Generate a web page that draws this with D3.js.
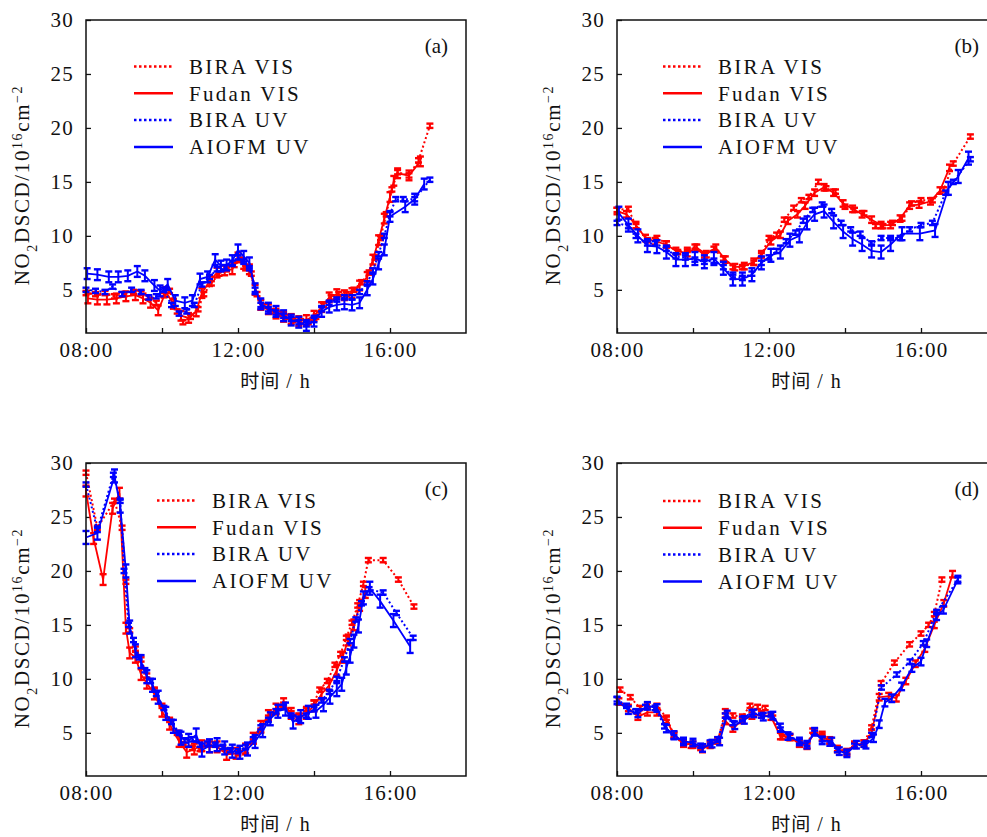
<!DOCTYPE html>
<html>
<head>
<meta charset="utf-8">
<script src="https://cdn.jsdelivr.net/npm/d3@7"></script>
<style>
  body { margin: 0; background: #fff; }
  svg { display: block; }
  text { font-family: "Liberation Serif", serif; fill: #111; }
</style>
</head>
<body>
<svg width="987" height="837"></svg>
<script>
// series names, in drawing order
const seriesNames = ["BIRA VIS", "Fudan VIS", "BIRA UV", "AIOFM UV"]
const seriesColors = ["#ff0000", "#ff0000", "#0000ff", "#0000ff"]
const seriesDotted = [true, false, true, false]
const panelLabels = ["(a)", "(b)", "(c)", "(d)"]
const yTicks = [5, 10, 15, 20, 25, 30]
const xTicks = [8, 10, 12, 14, 16]
const xTickLabels = {8: "08:00", 12: "12:00", 16: "16:00"}

// panel (a): [hour, NO2 DSCD]
const aBiraVis = [[8.0,4.7],[8.25,4.6],[8.5,4.7],[8.75,4.4],[9.0,4.6],[9.25,4.8],[9.45,4.7],[9.65,4.3],[9.85,3.8],[10.05,4.5],[10.2,4.9],[10.4,3.0],[10.55,2.0],[10.75,2.5],[10.95,3.2],[11.1,4.6],[11.3,5.6],[11.5,6.5],[11.7,6.9],[11.9,7.3],[12.05,7.8],[12.2,7.0],[12.35,6.5],[12.5,4.6],[12.65,3.5],[12.85,3.0],[13.05,2.8],[13.25,2.5],[13.45,2.2],[13.65,2.1],[13.85,2.0],[14.05,2.5],[14.25,3.6],[14.45,4.3],[14.65,4.6],[14.85,4.6],[15.05,5.0],[15.25,5.7],[15.45,6.6],[15.6,8.0],[15.75,9.8],[15.9,12.0],[16.05,14.3],[16.2,15.9],[16.5,15.6],[16.75,17.0],[17.05,20.2]]
const aFudanVis = [[8.05,4.2],[8.3,4.1],[8.55,4.1],[8.8,4.2],[9.05,4.4],[9.3,4.5],[9.5,4.2],[9.7,3.8],[9.9,3.1],[10.1,4.8],[10.3,3.7],[10.5,2.6],[10.7,2.4],[10.9,3.0],[11.05,4.7],[11.25,5.8],[11.45,6.6],[11.65,6.8],[11.85,6.9],[12.0,8.0],[12.15,7.4],[12.3,6.9],[12.45,5.0],[12.6,3.6],[12.8,3.2],[13.0,2.8],[13.2,2.5],[13.4,2.3],[13.6,2.1],[13.8,2.2],[14.0,2.6],[14.2,3.4],[14.4,4.3],[14.6,4.6],[14.8,4.5],[15.0,4.7],[15.2,5.4],[15.4,6.2],[15.55,7.8],[15.7,9.6],[15.85,11.6],[16.0,13.6],[16.1,15.1],[16.2,15.8],[16.5,15.6],[16.8,16.9]]
const aBiraUv = [[8.0,5.0],[8.25,4.9],[8.5,4.8],[8.7,5.3],[8.95,4.6],[9.2,5.0],[9.45,4.8],[9.65,4.3],[9.85,4.4],[10.05,5.0],[10.25,3.6],[10.45,2.8],[10.65,3.0],[10.85,3.6],[11.05,5.5],[11.25,6.2],[11.45,6.9],[11.65,7.1],[11.85,7.5],[12.0,8.0],[12.15,7.6],[12.3,7.0],[12.45,5.0],[12.6,3.6],[12.8,3.2],[13.0,2.9],[13.2,2.6],[13.4,2.3],[13.6,2.0],[13.8,1.8],[14.0,2.2],[14.2,3.2],[14.4,3.8],[14.6,4.1],[14.8,4.3],[15.0,4.3],[15.2,4.8],[15.4,5.6],[15.55,6.8],[15.7,8.3],[15.85,10.0],[16.0,12.0],[16.15,13.4],[16.35,13.4],[16.65,13.4],[17.05,15.2]]
const aAiofmUv = [[8.03,6.5],[8.3,6.4],[8.6,6.2],[8.85,6.2],[9.1,6.3],[9.35,6.7],[9.55,6.3],[9.8,5.4],[9.95,4.9],[10.15,5.5],[10.35,4.0],[10.6,3.8],[10.8,4.0],[11.0,6.0],[11.2,6.2],[11.4,7.8],[11.55,7.2],[11.7,7.3],[11.85,7.7],[12.0,8.7],[12.15,8.1],[12.3,7.5],[12.45,5.1],[12.6,3.7],[12.8,3.3],[13.0,3.0],[13.2,2.6],[13.4,2.2],[13.6,2.0],[13.8,1.7],[14.0,2.1],[14.2,3.0],[14.4,3.4],[14.6,3.6],[14.8,3.7],[15.0,3.6],[15.2,3.8],[15.4,5.0],[15.55,6.0],[15.7,7.4],[15.85,8.7],[16.0,11.8],[16.4,12.7],[16.65,13.4],[16.9,14.8]]
const aErr = [0.2, 0.45, 0.2, 0.5]

// panel (b)
const bBiraVis = [[8.0,12.4],[8.3,12.5],[8.5,10.9],[8.8,9.6],[9.05,9.8],[9.3,9.3],[9.6,8.5],[9.85,8.7],[10.05,9.0],[10.3,8.2],[10.55,8.8],[10.8,7.9],[11.05,7.1],[11.3,7.1],[11.6,7.5],[11.8,8.2],[12.0,9.8],[12.2,10.1],[12.4,11.5],[12.65,12.6],[12.85,13.3],[13.05,13.6],[13.3,15.0],[13.5,14.4],[13.75,14.1],[14.0,12.7],[14.25,12.4],[14.5,12.1],[14.8,10.9],[15.0,10.9],[15.25,11.2],[15.5,11.6],[15.75,13.0],[16.0,13.3],[16.3,13.3],[16.6,14.3],[16.85,16.7],[17.3,19.2]]
const bFudanVis = [[8.0,12.3],[8.25,12.0],[8.5,11.0],[8.75,9.8],[9.0,9.5],[9.3,9.2],[9.55,8.6],[9.85,8.4],[10.1,8.9],[10.35,8.3],[10.6,8.9],[10.85,7.8],[11.1,7.1],[11.35,7.2],[11.6,7.6],[11.8,8.3],[12.05,9.5],[12.3,10.1],[12.5,11.4],[12.75,12.0],[12.95,12.8],[13.2,14.0],[13.45,14.5],[13.7,14.0],[13.95,13.0],[14.2,12.5],[14.45,12.0],[14.7,11.5],[14.95,11.0],[15.2,11.0],[15.45,11.6],[15.7,12.8],[15.95,12.9],[16.25,13.2],[16.5,14.2],[16.75,16.3]]
const bBiraUv = [[8.0,11.2],[8.3,10.9],[8.5,10.0],[8.8,9.3],[9.0,9.3],[9.3,8.8],[9.55,8.1],[9.8,8.0],[10.05,7.8],[10.3,7.6],[10.55,7.7],[10.8,7.1],[11.05,6.2],[11.3,6.1],[11.55,6.5],[11.8,7.5],[12.0,8.0],[12.2,8.6],[12.45,9.5],[12.7,10.3],[12.9,11.4],[13.15,12.4],[13.4,12.9],[13.65,12.3],[13.9,11.2],[14.15,10.6],[14.4,10.2],[14.7,9.3],[14.95,9.8],[15.2,9.8],[15.45,9.8],[15.7,10.6],[16.0,11.0],[16.3,11.2],[16.65,14.0],[16.85,15.0],[17.3,17.1]]
const bAiofmUv = [[8.05,12.1],[8.3,11.0],[8.55,10.0],[8.8,9.1],[9.05,9.0],[9.3,8.5],[9.55,7.8],[9.8,7.8],[10.05,7.9],[10.3,7.6],[10.55,7.9],[10.8,7.0],[11.05,6.0],[11.3,6.0],[11.55,6.4],[11.8,7.5],[12.05,8.2],[12.3,8.5],[12.55,9.6],[12.8,10.0],[13.0,11.2],[13.2,12.0],[13.45,12.3],[13.7,11.3],[13.95,10.4],[14.2,9.7],[14.45,9.2],[14.7,8.6],[14.95,8.5],[15.2,9.2],[15.5,10.2],[15.97,10.2],[16.37,10.5],[16.72,14.4],[16.98,15.5],[17.25,17.2]]
const bErr = [0.2, 0.3, 0.2, 0.6]

// panel (c)
const cBiraVis = [[8.0,29.1],[8.3,24.0],[8.75,26.5],[8.95,24.0],[9.05,19.0],[9.15,14.5],[9.3,12.8],[9.45,11.8],[9.6,10.3],[9.8,9.0],[10.0,7.5],[10.2,6.2],[10.4,5.0],[10.6,3.9],[10.8,3.6],[11.0,3.5],[11.2,3.9],[11.4,3.9],[11.6,3.6],[11.8,3.3],[12.0,3.1],[12.2,3.3],[12.4,4.2],[12.6,5.2],[12.8,6.4],[13.0,7.0],[13.2,7.6],[13.4,6.8],[13.6,6.5],[13.8,7.2],[14.0,7.8],[14.15,9.0],[14.35,9.8],[14.55,11.3],[14.7,12.3],[14.85,13.8],[15.0,15.2],[15.15,16.8],[15.3,18.8],[15.43,21.0],[15.82,21.0],[16.22,19.2],[16.63,16.7]]
const cFudanVis = [[8.0,27.4],[8.2,23.0],[8.45,19.2],[8.7,25.8],[8.88,27.2],[9.05,14.7],[9.15,12.4],[9.3,12.0],[9.45,10.4],[9.6,9.6],[9.8,8.6],[10.0,7.0],[10.2,5.8],[10.45,4.2],[10.65,3.2],[10.85,3.5],[11.05,3.8],[11.25,3.7],[11.45,3.7],[11.7,3.0],[11.95,3.1],[12.2,3.5],[12.4,4.5],[12.6,5.6],[12.8,6.6],[13.0,7.2],[13.2,7.7],[13.4,6.8],[13.6,6.3],[13.8,6.8],[14.0,7.5],[14.2,8.6],[14.4,9.4],[14.6,10.8],[14.75,12.0],[14.9,13.6],[15.05,15.0],[15.2,16.8],[15.35,18.0]]
const cBiraUv = [[8.0,28.0],[8.3,23.8],[8.72,28.9],[8.9,26.5],[9.0,20.0],[9.12,15.0],[9.25,13.6],[9.4,12.0],[9.55,10.8],[9.7,9.8],[9.85,8.6],[10.05,7.3],[10.25,6.0],[10.45,5.0],[10.6,4.3],[10.8,4.4],[11.0,3.9],[11.2,4.0],[11.4,3.9],[11.6,3.7],[11.8,3.4],[12.0,3.3],[12.2,3.7],[12.4,4.4],[12.6,5.5],[12.8,6.2],[13.0,7.0],[13.2,7.4],[13.4,6.6],[13.6,6.3],[13.8,6.6],[14.0,7.2],[14.2,8.0],[14.4,8.8],[14.6,10.0],[14.8,11.8],[14.95,13.5],[15.1,15.5],[15.25,17.0],[15.45,18.3],[15.82,18.0],[16.17,16.1],[16.61,13.8]]
const cAiofmUv = [[8.0,23.1],[8.3,23.5],[8.75,28.8],[8.9,26.0],[9.05,20.0],[9.15,14.8],[9.3,12.6],[9.45,11.6],[9.6,10.2],[9.75,9.4],[9.9,8.3],[10.1,6.8],[10.3,5.6],[10.5,4.5],[10.7,4.3],[10.9,4.8],[11.05,3.4],[11.25,3.8],[11.45,3.9],[11.65,3.6],[11.85,3.3],[12.05,3.2],[12.25,3.5],[12.45,4.2],[12.65,5.2],[12.85,6.3],[13.05,7.0],[13.25,7.2],[13.45,6.0],[13.65,6.5],[13.85,6.9],[14.05,7.0],[14.25,7.6],[14.42,8.3],[14.6,9.0],[14.73,9.5],[14.85,11.0],[14.95,12.1],[15.05,13.5],[15.17,14.9],[15.3,17.5],[15.47,18.4],[15.74,17.2],[16.09,15.4],[16.53,13.0]]
const cErr = [0.2, 0.5, 0.2, 0.6]

// panel (d)
const dBiraVis = [[8.08,9.0],[8.35,8.3],[8.6,7.3],[8.8,7.6],[9.05,7.5],[9.3,6.4],[9.5,4.8],[9.75,3.9],[9.95,3.8],[10.2,3.6],[10.45,3.8],[10.65,4.2],[10.85,7.0],[11.05,6.6],[11.3,6.5],[11.5,7.5],[11.7,7.4],[11.9,7.3],[12.1,6.4],[12.35,4.6],[12.55,4.6],[12.8,3.9],[13.0,3.8],[13.15,5.2],[13.4,4.9],[13.6,4.2],[13.8,3.5],[14.05,3.3],[14.25,3.9],[14.5,4.1],[14.7,5.5],[14.95,9.6],[15.3,11.5],[15.7,13.2],[16.0,14.2],[16.2,15.0],[16.35,16.0],[16.55,19.2]]
const dFudanVis = [[8.05,7.9],[8.3,7.3],[8.55,6.5],[8.8,6.9],[9.05,6.9],[9.3,6.2],[9.5,4.8],[9.75,4.0],[10.0,3.9],[10.25,3.5],[10.45,3.9],[10.65,4.3],[10.85,6.1],[11.05,5.4],[11.3,6.2],[11.55,6.6],[11.8,6.7],[12.05,6.5],[12.3,4.7],[12.55,4.6],[12.8,4.0],[13.0,3.8],[13.2,5.1],[13.4,4.6],[13.6,4.3],[13.8,3.5],[14.05,3.2],[14.25,3.9],[14.5,4.0],[14.7,5.0],[14.9,8.3],[15.15,8.4],[15.35,8.2],[15.6,9.8],[15.85,11.4],[16.1,12.8],[16.35,15.0],[16.6,17.0],[16.83,19.7]]
const dBiraUv = [[8.0,8.1],[8.25,7.5],[8.5,7.0],[8.75,7.4],[9.0,7.3],[9.25,5.6],[9.5,4.6],[9.75,4.2],[10.0,4.0],[10.2,3.8],[10.45,4.1],[10.65,4.4],[10.85,6.6],[11.05,5.9],[11.3,6.3],[11.55,6.9],[11.8,6.6],[12.05,6.7],[12.3,5.3],[12.55,4.7],[12.8,4.2],[13.0,4.0],[13.2,5.0],[13.4,4.4],[13.6,4.0],[13.8,3.4],[14.05,3.2],[14.25,3.8],[14.5,3.9],[14.7,4.8],[14.96,9.2],[15.36,10.4],[15.71,11.6],[16.06,13.3],[16.41,16.2],[16.97,19.2]]
const dAiofmUv = [[8.0,8.0],[8.3,7.1],[8.55,6.8],[8.8,7.5],[9.05,7.3],[9.3,5.4],[9.5,4.8],[9.75,4.2],[10.0,4.1],[10.25,3.6],[10.5,4.0],[10.7,4.2],[10.9,6.7],[11.1,5.7],[11.35,6.2],[11.6,6.8],[11.85,6.5],[12.1,6.6],[12.3,5.5],[12.5,4.7],[12.8,4.2],[13.0,3.9],[13.2,5.1],[13.4,4.3],[13.65,4.2],[13.85,3.3],[14.05,3.1],[14.3,3.9],[14.55,3.9],[14.75,4.5],[14.9,5.8],[15.05,7.8],[15.23,8.2],[15.49,9.3],[15.76,11.0],[16.0,11.6],[16.15,13.3],[16.41,15.8],[16.59,16.4],[16.97,19.2]]
const dErr = [0.2, 0.3, 0.2, 0.35]

const panels = [
    {label: panelLabels[0], x: 86, y: 20, series: [aBiraVis, aFudanVis, aBiraUv, aAiofmUv], err: aErr, legend: [134, 66.5]},
    {label: panelLabels[1], x: 617, y: 20, series: [bBiraVis, bFudanVis, bBiraUv, bAiofmUv], err: bErr, legend: [663, 66.5]},
    {label: panelLabels[2], x: 86, y: 463, series: [cBiraVis, cFudanVis, cBiraUv, cAiofmUv], err: cErr, legend: [157, 500.5]},
    {label: panelLabels[3], x: 617, y: 463, series: [dBiraVis, dFudanVis, dBiraUv, dAiofmUv], err: dErr, legend: [663, 501]}
]

const pw = 380, ph = 313
const svg = d3.select("svg")

const x = d3.scaleLinear().domain([8, 18]).range([0, pw])
const y = d3.scaleLinear().domain([1, 30]).range([ph, 0])

panels.forEach(p => {
    let g = svg.append("g").attr("transform", `translate(${p.x},${p.y})`)

    // axes, ticks pointing inward
    let yAxis = g.append("g")
        .call(d3.axisLeft(y).tickValues(yTicks).tickSizeInner(-5).tickSizeOuter(0).tickPadding(12))
    let xAxis = g.append("g")
        .attr("transform", `translate(0,${ph})`)
        .call(d3.axisBottom(x).tickValues(xTicks).tickSizeInner(-5).tickSizeOuter(0).tickPadding(9)
            .tickFormat(d => xTickLabels[d] || ""))
    ;[yAxis, xAxis].forEach(a => {
        a.select(".domain").remove()
        a.selectAll("line").attr("stroke", "#111").attr("stroke-width", 1.3)
        a.selectAll("text")
            .attr("fill", "#111")
            .style("font-family", "'Liberation Serif', serif")
            .style("font-size", "21px")
            .style("letter-spacing", "1.2px")
    })

    let line = d3.line().x(d => x(d[0])).y(d => y(d[1]))

    p.series.forEach((s, i) => {
        let color = seriesColors[i]
        let e = p.err[i]
        g.append("path")
            .datum(s)
            .attr("fill", "none")
            .attr("stroke", color)
            .attr("stroke-width", seriesDotted[i] ? 2 : 1.8)
            .attr("stroke-dasharray", seriesDotted[i] ? "2,2.5" : null)
            .attr("d", line)

        let bars = g.append("g").selectAll("g")
            .data(s)
            .enter().append("g")
            .attr("stroke", color)
        bars.append("line")
            .attr("x1", d => x(d[0])).attr("x2", d => x(d[0]))
            .attr("y1", d => y(d[1] - e)).attr("y2", d => y(d[1] + e))
            .attr("stroke-width", 2)
        bars.append("line")
            .attr("x1", d => x(d[0]) - 3.5).attr("x2", d => x(d[0]) + 3.5)
            .attr("y1", d => y(d[1] - e)).attr("y2", d => y(d[1] - e))
            .attr("stroke-width", 2.4)
        bars.append("line")
            .attr("x1", d => x(d[0]) - 3.5).attr("x2", d => x(d[0]) + 3.5)
            .attr("y1", d => y(d[1] + e)).attr("y2", d => y(d[1] + e))
            .attr("stroke-width", 2.4)
    })

    // frame
    g.append("rect")
        .attr("width", pw).attr("height", ph)
        .attr("fill", "none").attr("stroke", "#111").attr("stroke-width", 1.5)

    // legend
    let lg = svg.append("g").attr("transform", `translate(${p.legend[0]},${p.legend[1]})`)
    seriesNames.forEach((name, i) => {
        let row = lg.append("g").attr("transform", `translate(0,${i * 26.8})`)
        row.append("line")
            .attr("x1", 0).attr("x2", 39)
            .attr("stroke", seriesColors[i])
            .attr("stroke-width", 2.5)
            .attr("stroke-dasharray", seriesDotted[i] ? "2.5,2.5" : null)
        row.append("text")
            .attr("x", 55).attr("dy", "0.35em")
            .style("font-size", "21px")
            .style("letter-spacing", "2.3px")
            .text(name)
    })

    // panel letter
    g.append("text")
        .attr("x", 362).attr("y", 26).attr("dy", "0.35em")
        .attr("text-anchor", "end")
        .style("font-size", "21px")
        .text(p.label)

    // y title
    let yt = g.append("text")
        .attr("transform", `translate(-64,${165}) rotate(-90)`)
        .attr("text-anchor", "middle")
        .attr("dy", "0.35em")
        .style("font-size", "21px")
        .style("letter-spacing", "1.6px")
    yt.append("tspan").text("NO")
    yt.append("tspan").attr("baseline-shift", "sub").style("font-size", "14px").text("2")
    yt.append("tspan").text("DSCD/10")
    yt.append("tspan").attr("baseline-shift", "super").style("font-size", "14px").text("16")
    yt.append("tspan").text("cm")
    yt.append("tspan").attr("baseline-shift", "super").style("font-size", "14px").text("\u22122")

    // x title
    let xt = g.append("text")
        .attr("x", pw / 2).attr("y", ph + 55)
        .attr("text-anchor", "middle")
        .style("font-size", "19px")
    xt.append("tspan").style("font-family", "'Noto Sans CJK SC'").style("letter-spacing", "1px").text("时间")
    xt.append("tspan").style("font-size", "20px").style("letter-spacing", "2px").text("\u2009/\u2009h")
})
</script>
</body>
</html>
